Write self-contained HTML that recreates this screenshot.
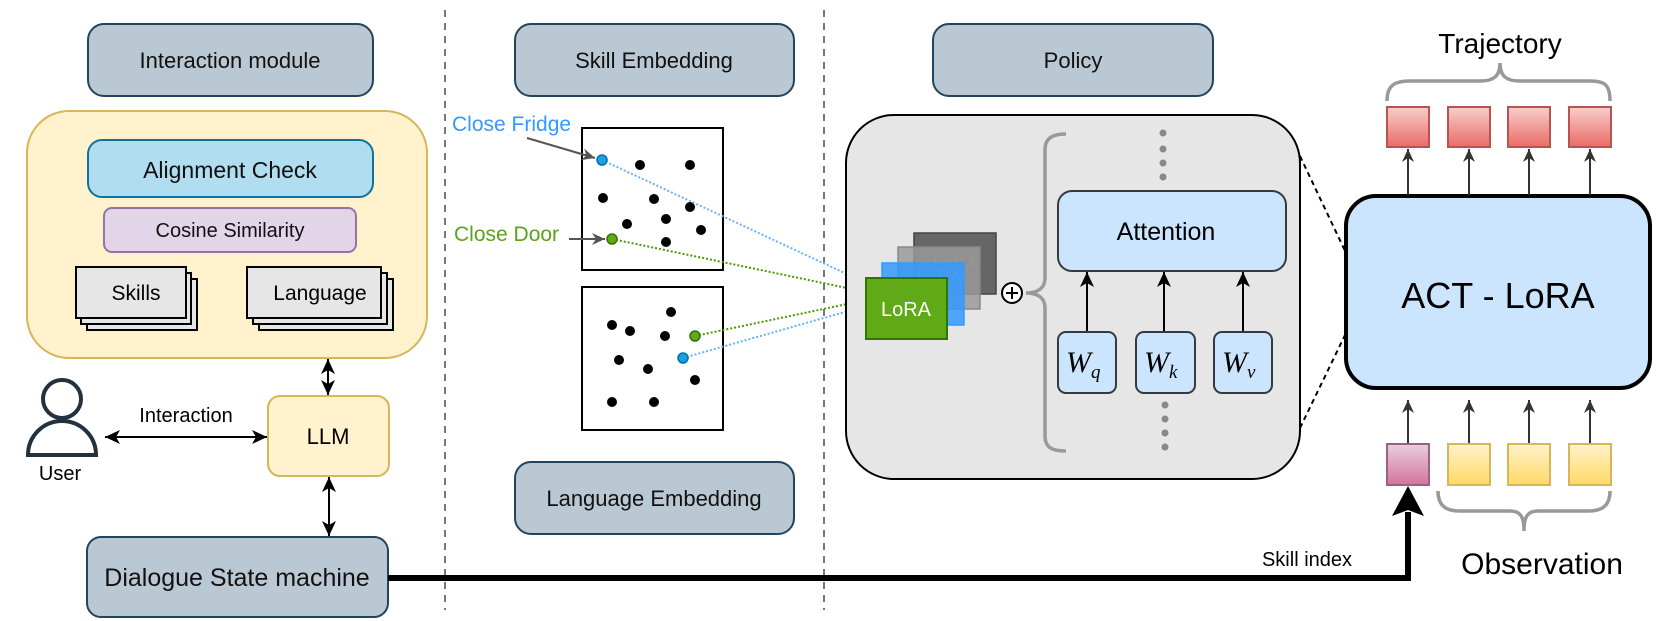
<!DOCTYPE html>
<html><head><meta charset="utf-8"><style>
html,body{margin:0;padding:0;background:#fff;}
svg{display:block;font-family:"Liberation Sans","DejaVu Sans",sans-serif;}
</style></head><body>
<svg width="1661" height="621" viewBox="0 0 1661 621" xmlns="http://www.w3.org/2000/svg">
<defs>
<marker id="ah" markerWidth="16" markerHeight="16" refX="15" refY="8" orient="auto-start-reverse" markerUnits="userSpaceOnUse"><path d="M0,1 L15,8 L0,15 L4,8 Z" fill="#000"/></marker>
<marker id="ahg" markerWidth="14" markerHeight="14" refX="13" refY="7" orient="auto" markerUnits="userSpaceOnUse"><path d="M0,1 L13,7 L0,13 L4,7 Z" fill="#555"/></marker>
<marker id="ahd" markerWidth="14" markerHeight="14" refX="13" refY="7" orient="auto" markerUnits="userSpaceOnUse"><path d="M0,1 L13,7 L0,13 L4,7 Z" fill="#333"/></marker>
<linearGradient id="gr" x1="0" y1="0" x2="0" y2="1"><stop offset="0" stop-color="#f8cecc"/><stop offset="1" stop-color="#ea6b66"/></linearGradient>
<linearGradient id="gp" x1="0" y1="0" x2="0" y2="1"><stop offset="0" stop-color="#e6d0de"/><stop offset="1" stop-color="#d5739d"/></linearGradient>
<linearGradient id="gy" x1="0" y1="0" x2="0" y2="1"><stop offset="0" stop-color="#fff2cc"/><stop offset="1" stop-color="#ffd966"/></linearGradient>
</defs>

<line x1="445" y1="10" x2="445" y2="610" stroke="#777" stroke-width="2" stroke-dasharray="7,6"/>
<line x1="824" y1="10" x2="824" y2="610" stroke="#777" stroke-width="2" stroke-dasharray="7,6"/>

<g fill="#bac8d3" stroke="#23445d" stroke-width="2">
<rect x="88" y="24" width="285" height="72" rx="16"/>
<rect x="515" y="24" width="279" height="72" rx="16"/>
<rect x="933" y="24" width="280" height="72" rx="16"/>
<rect x="515" y="462" width="279" height="72" rx="16"/>
<rect x="87" y="537" width="301" height="80" rx="14"/>
</g>
<g font-size="22" text-anchor="middle" fill="#111">
<text x="230" y="68">Interaction module</text>
<text x="654" y="68">Skill Embedding</text>
<text x="1073" y="68">Policy</text>
<text x="654" y="506">Language Embedding</text>
<text x="237" y="586" font-size="25">Dialogue State machine</text>
</g>

<rect x="27" y="111" width="400" height="247" rx="42" fill="#fff2cc" stroke="#d6b656" stroke-width="2"/>
<rect x="88" y="140" width="285" height="57" rx="14" fill="#b1ddf0" stroke="#10739e" stroke-width="2"/>
<text x="230" y="178" font-size="23" text-anchor="middle" fill="#111">Alignment Check</text>
<rect x="104" y="208" width="252" height="44" rx="8" fill="#e1d5e7" stroke="#9673a6" stroke-width="2"/>
<text x="230" y="237" font-size="20" text-anchor="middle" fill="#111">Cosine Similarity</text>
<g fill="#e6e6e6" stroke="#000" stroke-width="2">
<rect x="87" y="279" width="110" height="51"/>
<rect x="81" y="273" width="110" height="51"/>
<rect x="76" y="267" width="110" height="51"/>
<rect x="259" y="279" width="134" height="51"/>
<rect x="253" y="273" width="134" height="51"/>
<rect x="247" y="267" width="134" height="51"/>
</g>
<text x="136" y="300" font-size="21" text-anchor="middle">Skills</text>
<text x="320" y="300" font-size="21" text-anchor="middle">Language</text>

<rect x="268" y="396" width="121" height="80" rx="12" fill="#fff2cc" stroke="#d6b656" stroke-width="2"/>
<text x="328" y="444" font-size="22" text-anchor="middle">LLM</text>
<line x1="328" y1="359" x2="328" y2="395" stroke="#000" stroke-width="2" marker-start="url(#ah)" marker-end="url(#ah)"/>
<line x1="329" y1="477" x2="329" y2="536" stroke="#000" stroke-width="2" marker-start="url(#ah)" marker-end="url(#ah)"/>
<line x1="105" y1="437" x2="267" y2="437" stroke="#000" stroke-width="2" marker-start="url(#ah)" marker-end="url(#ah)"/>
<text x="186" y="422" font-size="20" text-anchor="middle">Interaction</text>
<circle cx="62" cy="399" r="19" fill="none" stroke="#23303d" stroke-width="4"/>
<path d="M28,455 A34,34 0 0 1 96,455 Z" fill="none" stroke="#23303d" stroke-width="4"/>
<text x="60" y="480" font-size="20" text-anchor="middle">User</text>

<rect x="582" y="128" width="141" height="142" fill="#fff" stroke="#000" stroke-width="2"/>
<rect x="582" y="287" width="141" height="143" fill="#fff" stroke="#000" stroke-width="2"/>
<g fill="#000">
<circle cx="640" cy="165" r="5"/><circle cx="690" cy="165" r="5"/><circle cx="603" cy="198" r="5"/>
<circle cx="654" cy="199" r="5"/><circle cx="690" cy="207" r="5"/><circle cx="627" cy="224" r="5"/>
<circle cx="666" cy="219" r="5"/><circle cx="701" cy="230" r="5"/><circle cx="666" cy="242" r="5"/>
<circle cx="612" cy="325" r="5"/><circle cx="630" cy="331" r="5"/><circle cx="671" cy="312" r="5"/>
<circle cx="665" cy="336" r="5"/><circle cx="619" cy="360" r="5"/><circle cx="648" cy="369" r="5"/>
<circle cx="695" cy="380" r="5"/><circle cx="612" cy="402" r="5"/><circle cx="654" cy="402" r="5"/>
</g>
<g stroke-width="2" stroke-dasharray="2,2" fill="none">
<line x1="602" y1="160" x2="866" y2="283" stroke="#66b2ff"/>
<line x1="612" y1="239" x2="866" y2="292" stroke="#4d9900"/>
<line x1="695" y1="336" x2="866" y2="300" stroke="#4d9900"/>
<line x1="683" y1="358" x2="866" y2="306" stroke="#66b2ff"/>
</g>
<circle cx="602" cy="160" r="5" fill="#1ba1e2" stroke="#006eaf" stroke-width="1.5"/>
<circle cx="612" cy="239" r="5" fill="#60a917" stroke="#2d7600" stroke-width="1.5"/>
<circle cx="695" cy="336" r="5" fill="#60a917" stroke="#2d7600" stroke-width="1.5"/>
<circle cx="683" cy="358" r="5" fill="#1ba1e2" stroke="#006eaf" stroke-width="1.5"/>
<line x1="527" y1="138" x2="595" y2="158" stroke="#555" stroke-width="2" marker-end="url(#ahg)"/>
<line x1="569" y1="239" x2="605" y2="239" stroke="#555" stroke-width="2" marker-end="url(#ahg)"/>
<text x="452" y="131" font-size="21" fill="#3399ff">Close Fridge</text>
<text x="454" y="241" font-size="21" fill="#5aa31a">Close Door</text>

<rect x="846" y="115" width="454" height="364" rx="48" fill="#e6e6e6" stroke="#000" stroke-width="2"/>
<rect x="914" y="233" width="82" height="61" fill="#666" stroke="#444" stroke-width="1.5"/>
<text x="955" y="270" font-size="18" text-anchor="middle" fill="#888">LoRA</text>
<rect x="898" y="247" width="82" height="62" fill="#999" fill-opacity="0.85" stroke="#888" stroke-width="1.5"/>
<text x="939" y="284" font-size="18" text-anchor="middle" fill="#bbb">LoRA</text>
<rect x="882" y="263" width="82" height="62" fill="#3399ff" fill-opacity="0.85" stroke="#3399ff" stroke-width="1.5"/>
<text x="923" y="299" font-size="18" text-anchor="middle" fill="#8cb">LoRA</text>
<rect x="866" y="278" width="81" height="61" fill="#60a917" stroke="#2d7600" stroke-width="2"/>
<text x="906" y="316" font-size="20" text-anchor="middle" fill="#fff">LoRA</text>
<circle cx="1012" cy="293" r="10" fill="#fff" stroke="#000" stroke-width="2"/>
<path d="M1006,293 H1018 M1012,287 V299" stroke="#000" stroke-width="2"/>
<path d="M1066,134 C1050,134 1045,140 1045,150 L1045,278 C1045,288 1038,293 1026,293 C1038,293 1045,298 1045,308 L1045,436 C1045,446 1050,451 1066,451" fill="none" stroke="#999" stroke-width="3.5"/>
<rect x="1058" y="191" width="228" height="80" rx="14" fill="#cce5ff" stroke="#36393d" stroke-width="2"/>
<text x="1166" y="240" font-size="25" text-anchor="middle">Attention</text>
<g fill="#cce5ff" stroke="#36393d" stroke-width="2">
<rect x="1058" y="332" width="58" height="61" rx="8"/>
<rect x="1136" y="332" width="59" height="61" rx="8"/>
<rect x="1214" y="332" width="58" height="61" rx="8"/>
</g>
<g font-family="Liberation Serif,serif" font-style="italic" font-size="30">
<text x="1066" y="372">W<tspan font-size="19" dy="6">q</tspan></text>
<text x="1144" y="372">W<tspan font-size="19" dy="6">k</tspan></text>
<text x="1222" y="372">W<tspan font-size="19" dy="6">v</tspan></text>
</g>
<g stroke="#000" stroke-width="2">
<line x1="1087" y1="331" x2="1087" y2="272" marker-end="url(#ah)"/>
<line x1="1164" y1="331" x2="1164" y2="272" marker-end="url(#ah)"/>
<line x1="1243" y1="331" x2="1243" y2="272" marker-end="url(#ah)"/>
</g>
<g fill="#888">
<circle cx="1163" cy="133" r="3.5"/><circle cx="1163" cy="149" r="3.5"/><circle cx="1163" cy="163" r="3.5"/><circle cx="1163" cy="177" r="3.5"/>
<circle cx="1165" cy="405" r="3.5"/><circle cx="1165" cy="419" r="3.5"/><circle cx="1165" cy="433" r="3.5"/><circle cx="1165" cy="447" r="3.5"/>
</g>

<line x1="1300" y1="156" x2="1346" y2="253" stroke="#000" stroke-width="2" stroke-dasharray="5,4"/>
<line x1="1300" y1="428" x2="1346" y2="333" stroke="#000" stroke-width="2" stroke-dasharray="5,4"/>

<rect x="1346" y="196" width="304" height="192" rx="30" fill="#cce5ff" stroke="#000" stroke-width="4"/>
<text x="1498" y="308" font-size="36" text-anchor="middle">ACT - LoRA</text>
<text x="1500" y="53" font-size="28" text-anchor="middle">Trajectory</text>
<path d="M1387,101 C1387,85 1395,81 1410,81 L1480,81 C1494,81 1500,76 1500,63 C1500,76 1506,81 1520,81 L1590,81 C1605,81 1610,85 1610,101" fill="none" stroke="#999" stroke-width="3.5"/>
<g fill="url(#gr)" stroke="#b85450" stroke-width="2">
<rect x="1387" y="107" width="42" height="40"/><rect x="1448" y="107" width="42" height="40"/>
<rect x="1508" y="107" width="42" height="40"/><rect x="1569" y="107" width="42" height="40"/>
</g>
<g stroke="#333" stroke-width="2">
<line x1="1408" y1="195" x2="1408" y2="149" marker-end="url(#ahd)"/>
<line x1="1469" y1="195" x2="1469" y2="149" marker-end="url(#ahd)"/>
<line x1="1529" y1="195" x2="1529" y2="149" marker-end="url(#ahd)"/>
<line x1="1590" y1="195" x2="1590" y2="149" marker-end="url(#ahd)"/>
<line x1="1408" y1="444" x2="1408" y2="400" marker-end="url(#ahd)"/>
<line x1="1469" y1="444" x2="1469" y2="400" marker-end="url(#ahd)"/>
<line x1="1529" y1="444" x2="1529" y2="400" marker-end="url(#ahd)"/>
<line x1="1590" y1="444" x2="1590" y2="400" marker-end="url(#ahd)"/>
</g>
<rect x="1387" y="444" width="42" height="41" fill="url(#gp)" stroke="#996185" stroke-width="2"/>
<g fill="url(#gy)" stroke="#d6b656" stroke-width="2">
<rect x="1448" y="444" width="42" height="41"/><rect x="1508" y="444" width="42" height="41"/><rect x="1569" y="444" width="42" height="41"/>
</g>
<path d="M1438,491 C1438,505 1445,511 1460,511 L1510,511 C1520,511 1524,516 1524,531 C1524,516 1528,511 1538,511 L1588,511 C1603,511 1610,505 1610,491" fill="none" stroke="#999" stroke-width="3.5"/>
<text x="1542" y="574" font-size="30" text-anchor="middle">Observation</text>

<path d="M388,578 L1408,578 L1408 512" fill="none" stroke="#000" stroke-width="6"/>
<path d="M1408,486 L1424,516 L1408,510 L1392,516 Z" fill="#000"/>
<text x="1307" y="566" font-size="20" text-anchor="middle">Skill index</text>
</svg>
</body></html>
